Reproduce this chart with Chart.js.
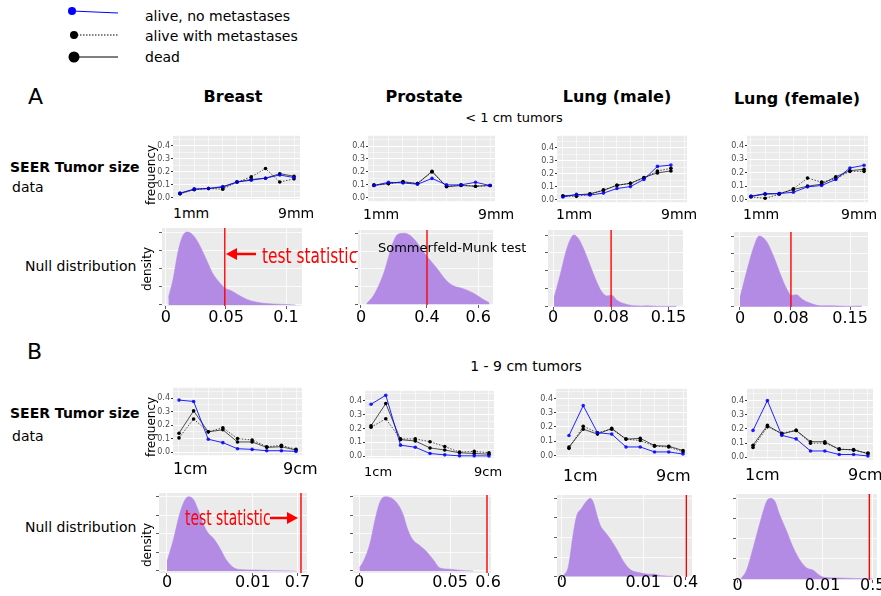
<!DOCTYPE html>
<html>
<head>
<meta charset="utf-8">
<script src="https://cdn.jsdelivr.net/npm/chart.js@4.4.1/dist/chart.umd.min.js"></script>
<style>
body { margin: 0; width: 881px; height: 596px; position: relative; overflow: hidden; background: #fff; font-family: "DejaVu Sans", sans-serif; }
canvas { position: absolute; }
.t { position: absolute; white-space: nowrap; color: #000; line-height: 1; z-index: 2; }
svg { position: absolute; left: 0; top: 0; z-index: 3; }
</style>
</head>
<body>
<svg width="881" height="596">
  <line x1="72" y1="11" x2="118" y2="13" stroke="#0000ff" stroke-width="1"/>
  <circle cx="72" cy="11" r="4" fill="#0000ff"/>
  <line x1="74" y1="35" x2="118" y2="35" stroke="#000" stroke-width="1" stroke-dasharray="1.5,1.5"/>
  <circle cx="74" cy="35" r="4" fill="#000"/>
  <line x1="74" y1="57" x2="118" y2="57" stroke="#000" stroke-width="1.2"/>
  <circle cx="74" cy="57" r="5.5" fill="#000"/>
  <line x1="256" y1="254" x2="234" y2="254" stroke="#ff0000" stroke-width="2.5"/>
  <polygon points="226,254 237,248 237,260" fill="#ff0000"/>
  <line x1="270" y1="518" x2="290" y2="518" stroke="#ff0000" stroke-width="2.5"/>
  <polygon points="298,518 287,512 287,524" fill="#ff0000"/>
</svg>
<script>
// tumor size steps (1..9 mm for A, 1..9 cm for B)
const sizeSteps = [1, 2, 3, 4, 5, 6, 7, 8, 9];
const mmEnds = ['1mm', '9mm'];
const cmEnds = ['1cm', '9cm'];

// A: < 1 cm tumors, frequency per size
const breastA_alive = [0.035, 0.065, 0.07, 0.085, 0.12, 0.135, 0.15, 0.175, 0.155];
const breastA_mets = [0.03, 0.06, 0.07, 0.065, 0.12, 0.16, 0.225, 0.12, 0.145];
const breastA_dead = [0.03, 0.065, 0.07, 0.08, 0.12, 0.14, 0.15, 0.185, 0.165];
const prostateA_alive = [0.095, 0.12, 0.115, 0.105, 0.15, 0.1, 0.1, 0.12, 0.095];
const prostateA_mets = [0.1, 0.11, 0.12, 0.11, 0.2, 0.09, 0.1, 0.09, 0.095];
const prostateA_dead = [0.095, 0.11, 0.125, 0.11, 0.205, 0.085, 0.095, 0.09, 0.095];
const lungMA_alive = [0.02, 0.04, 0.035, 0.05, 0.085, 0.1, 0.155, 0.255, 0.265];
const lungMA_mets = [0.025, 0.025, 0.04, 0.075, 0.11, 0.125, 0.165, 0.22, 0.24];
const lungMA_dead = [0.03, 0.035, 0.045, 0.07, 0.11, 0.125, 0.17, 0.205, 0.22];
const lungFA_alive = [0.025, 0.045, 0.045, 0.055, 0.095, 0.105, 0.15, 0.235, 0.255];
const lungFA_mets = [0.02, 0.01, 0.04, 0.08, 0.16, 0.13, 0.155, 0.21, 0.21];
const lungFA_dead = [0.025, 0.04, 0.045, 0.075, 0.1, 0.115, 0.17, 0.215, 0.225];

// B: 1 - 9 cm tumors
const breastB_alive = [0.385, 0.375, 0.095, 0.07, 0.025, 0.02, 0.01, 0.01, 0.005];
const breastB_mets = [0.105, 0.245, 0.15, 0.18, 0.1, 0.09, 0.04, 0.05, 0.02];
const breastB_dead = [0.14, 0.305, 0.15, 0.165, 0.075, 0.075, 0.035, 0.04, 0.015];
const prostateB_alive = [0.375, 0.44, 0.08, 0.065, 0.02, 0.01, 0.003, 0.003, 0.002];
const prostateB_mets = [0.21, 0.27, 0.125, 0.125, 0.105, 0.07, 0.03, 0.035, 0.025];
const prostateB_dead = [0.22, 0.38, 0.12, 0.11, 0.06, 0.045, 0.025, 0.02, 0.015];
const lungMB_alive = [0.14, 0.35, 0.16, 0.15, 0.06, 0.06, 0.025, 0.025, 0.01];
const lungMB_mets = [0.05, 0.205, 0.16, 0.185, 0.115, 0.105, 0.065, 0.06, 0.025];
const lungMB_dead = [0.06, 0.185, 0.15, 0.19, 0.115, 0.12, 0.07, 0.065, 0.035];
const lungFB_alive = [0.19, 0.4, 0.155, 0.13, 0.045, 0.045, 0.02, 0.02, 0.01];
const lungFB_mets = [0.07, 0.215, 0.17, 0.19, 0.1, 0.1, 0.06, 0.05, 0.03];
const lungFB_dead = [0.085, 0.225, 0.165, 0.19, 0.11, 0.11, 0.055, 0.055, 0.025];

// null distributions (density scaled to peak = 1) + test statistic
const breastA_nullX = [0.002, 0.006, 0.01, 0.014, 0.018, 0.023, 0.028, 0.034, 0.039, 0.045, 0.049, 0.054, 0.06, 0.067, 0.075, 0.084, 0.095, 0.108];
const breastA_nullY = [0.10, 0.36, 0.73, 0.95, 1.0, 0.95, 0.82, 0.61, 0.43, 0.30, 0.23, 0.20, 0.14, 0.08, 0.04, 0.02, 0.01, 0.0];
const breastA_stat = 0.049;
const breastA_ticks = [0, 0.05, 0.1];
const breastA_tickText = ['0', '0.05', '0.1'];

const prostateA_nullX = [0.034, 0.075, 0.135, 0.196, 0.226, 0.267, 0.317, 0.378, 0.402, 0.459, 0.519, 0.56, 0.62, 0.68, 0.74, 0.778];
const prostateA_nullY = [0.01, 0.12, 0.42, 0.88, 0.99, 1.0, 0.93, 0.74, 0.67, 0.51, 0.33, 0.26, 0.22, 0.16, 0.07, 0.02];
const prostateA_stat = 0.4;
const prostateA_ticks = [0, 0.4, 0.71];
const prostateA_tickText = ['0', '0.4', '0.6'];

const lungMA_nullX = [0.0014, 0.0097, 0.019, 0.026, 0.029, 0.035, 0.042, 0.051, 0.06, 0.067, 0.074, 0.081, 0.088, 0.102, 0.12, 0.129, 0.143, 0.17];
const lungMA_nullY = [0.13, 0.44, 0.81, 0.98, 1.0, 0.95, 0.81, 0.58, 0.35, 0.21, 0.15, 0.16, 0.09, 0.03, 0.01, 0.014, 0.005, 0.005];
const lungMA_stat = 0.08;
const lungMA_ticks = [0, 0.08, 0.159];
const lungMA_tickText = ['0', '0.08', '0.15'];

const lungFA_nullX = [0.0, 0.0105, 0.021, 0.03, 0.042, 0.052, 0.063, 0.073, 0.081, 0.089, 0.097, 0.11, 0.126, 0.146, 0.167, 0.191];
const lungFA_nullY = [0.13, 0.5, 0.83, 1.0, 0.92, 0.73, 0.47, 0.26, 0.16, 0.17, 0.11, 0.05, 0.014, 0.014, 0.005, 0.01];
const lungFA_stat = 0.08;
const lungFA_ticks = [0, 0.08, 0.173];
const lungFA_tickText = ['0', '0.08', '0.15'];

// B panels: axis is broken, the statistic sits at the right edge
const breastB_nullX = [0.0, 0.00074, 0.0015, 0.0021, 0.0025, 0.0031, 0.0036, 0.0042, 0.0048, 0.0054, 0.0062, 0.0069, 0.0077, 0.0085, 0.0104, 0.0124, 0.0151];
const breastB_nullY = [0.13, 0.42, 0.78, 0.96, 1.0, 0.96, 0.83, 0.64, 0.51, 0.44, 0.30, 0.15, 0.05, 0.02, 0.013, 0.005, 0.0];
const breastB_stat = 0.0156;
const breastB_ticks = [0, 0.01, 0.0152];
const breastB_tickText = ['0', '0.01', '0.7'];

const prostateB_nullX = [0.0002, 0.0024, 0.006, 0.0088, 0.0115, 0.0143, 0.018, 0.0216, 0.0244, 0.0262, 0.029, 0.0335, 0.0372, 0.0408, 0.0445, 0.05, 0.0555, 0.0628];
const prostateB_nullY = [0.04, 0.13, 0.37, 0.69, 0.93, 1.0, 0.98, 0.89, 0.75, 0.6, 0.44, 0.34, 0.26, 0.15, 0.04, 0.025, 0.01, 0.0];
const prostateB_stat = 0.0703;
const prostateB_ticks = [0, 0.05, 0.0709];
const prostateB_tickText = ['0', '0.05', '0.6'];

const lungMB_nullX = [0.0002, 0.0008, 0.0014, 0.0018, 0.0024, 0.003, 0.0035, 0.0039, 0.0043, 0.0047, 0.0053, 0.0059, 0.0068, 0.0076, 0.0084, 0.0096, 0.0109, 0.0113, 0.0121, 0.0137];
const lungMB_nullY = [0.01, 0.13, 0.55, 0.77, 0.87, 0.96, 1.0, 0.94, 0.79, 0.66, 0.57, 0.49, 0.34, 0.19, 0.09, 0.05, 0.03, 0.034, 0.013, 0.004];
const lungMB_stat = 0.0153;
const lungMB_ticks = [0, 0.01, 0.0152];
const lungMB_tickText = ['0', '0.01', '0.4'];

const lungFB_nullX = [0.0004, 0.001, 0.0018, 0.0026, 0.0034, 0.0038, 0.0044, 0.0049, 0.0057, 0.0065, 0.0073, 0.0081, 0.0089, 0.0096, 0.0104, 0.012, 0.014, 0.0159];
const lungFB_nullY = [0.01, 0.1, 0.38, 0.69, 0.96, 1.0, 0.96, 0.81, 0.61, 0.4, 0.24, 0.14, 0.11, 0.05, 0.02, 0.015, 0.008, 0.004];
const lungFB_stat = 0.0155;
const lungFB_ticks = [0, 0.01, 0.0159];
const lungFB_tickText = ['0', '0.01', '0.5'];

const BLUE = 'rgba(0,0,255,0.85)';
const BLACK = 'rgba(0,0,0,0.75)';
const PURPLE = '#b48be4';
const FONT = '"DejaVu Sans", sans-serif';

// grey ggplot panel background
const greyBg = {
    id: 'greyBg',
    beforeDraw(chart) {
        const { ctx, chartArea: a } = chart;
        ctx.save();
        ctx.fillStyle = '#ebebeb';
        ctx.fillRect(a.left, a.top, a.width, a.height);
        ctx.restore();
    }
};

function makeCanvas(left, top, w, h) {
    const c = document.createElement('canvas');
    c.width = w;
    c.height = h;
    c.style.left = left + 'px';
    c.style.top = top + 'px';
    c.style.width = w + 'px';
    c.style.height = h + 'px';
    document.body.appendChild(c);
    return c;
}

const isMajor = v => Math.round(v * 100) % 10 === 0;

function linePanel(box, xr, yr, alive, mets, dead) {
    const yw = 24;
    const c = makeCanvas(box[0] - yw, box[1], box[2] + yw, box[3]);
    const toPts = vals => sizeSteps.map((x, i) => ({ x, y: vals[i] }));
    new Chart(c, {
        type: 'line',
        data: {
            datasets: [
                { data: toPts(alive), borderColor: BLUE, backgroundColor: BLUE, borderWidth: 1, pointRadius: 1.8, pointBorderWidth: 0 },
                { data: toPts(dead), borderColor: BLACK, backgroundColor: '#000', borderWidth: 0.9, pointRadius: 1.8, pointBorderWidth: 0 },
                { data: toPts(mets), borderColor: BLACK, backgroundColor: '#000', borderWidth: 0.9, borderDash: [1.5, 1.5], pointRadius: 1.8, pointBorderWidth: 0 }
            ]
        },
        options: {
            animation: false,
            responsive: false,
            layout: { padding: 0, autoPadding: false },
            plugins: { legend: { display: false }, tooltip: { enabled: false } },
            scales: {
                x: {
                    type: 'linear', min: xr[0], max: xr[1],
                    ticks: { display: false, stepSize: 1, includeBounds: false },
                    grid: { color: '#fff', lineWidth: 0.6, drawTicks: false },
                    border: { display: false },
                    afterFit(s) { s.height = 0; }
                },
                y: {
                    min: yr[0], max: yr[1],
                    ticks: {
                        stepSize: 0.05, includeBounds: false, autoSkip: false, padding: 1,
                        color: '#4d4d4d', font: { size: 8, family: FONT },
                        callback: v => isMajor(v) ? v.toFixed(1) : ''
                    },
                    grid: {
                        color: '#fff',
                        lineWidth: ctx => isMajor(ctx.tick.value) ? 1 : 0.5,
                        tickLength: 2,
                        tickColor: ctx => isMajor(ctx.tick.value) ? '#333' : 'rgba(0,0,0,0)'
                    },
                    border: { display: false },
                    afterFit(s) { s.width = yw; }
                }
            }
        },
        plugins: [greyBg]
    });
}

function densityPanel(box, xr, yr, lblBase, xs, ys, stat, ticks, tickText) {
    const yw = 5, pr = 22, xh = 26;
    const c = makeCanvas(box[0] - yw, box[1], box[2] + yw + pr, box[3] + xh);
    // tick labels drawn last so they sit on top of the panel edge like the original
    const tickLabels = {
        id: 'tickLabels',
        afterDraw(chart) {
            const { ctx, chartArea: a, scales: { x } } = chart;
            ctx.save();
            ctx.font = '16px ' + FONT;
            ctx.fillStyle = '#000';
            ctx.textAlign = 'center';
            ctx.textBaseline = 'alphabetic';
            ticks.forEach((v, i) => ctx.fillText(tickText[i], x.getPixelForValue(v), a.bottom + lblBase));
            ctx.restore();
        }
    };
    new Chart(c, {
        type: 'line',
        data: {
            datasets: [
                { data: [{ x: stat, y: yr[0] }, { x: stat, y: yr[1] }], borderColor: '#ff0000', borderWidth: 1.4, pointRadius: 0, fill: false },
                { data: xs.map((x, i) => ({ x, y: ys[i] })), borderColor: PURPLE, backgroundColor: PURPLE, borderWidth: 0.5, pointRadius: 0, fill: 'origin', cubicInterpolationMode: 'monotone' }
            ]
        },
        options: {
            animation: false,
            responsive: false,
            layout: { padding: { left: 0, top: 0, bottom: 0, right: pr }, autoPadding: false },
            plugins: { legend: { display: false }, tooltip: { enabled: false } },
            scales: {
                x: {
                    type: 'linear', min: xr[0], max: xr[1],
                    afterBuildTicks(s) { s.ticks = ticks.map(v => ({ value: v })); },
                    ticks: { display: false },
                    grid: { color: '#fff', lineWidth: 0.8, tickLength: 3, tickColor: '#333' },
                    border: { display: false },
                    afterFit(s) { s.height = xh; }
                },
                y: {
                    min: yr[0], max: yr[1],
                    ticks: { display: false, stepSize: 0.25, includeBounds: false },
                    grid: { color: '#fff', lineWidth: 0.8, tickLength: 3, tickColor: '#333' },
                    border: { display: false },
                    afterFit(s) { s.width = yw; }
                }
            }
        },
        plugins: [greyBg, tickLabels]
    });
}

function txt(s, x, y, o = {}) {
    const d = document.createElement('div');
    d.className = 't';
    d.textContent = s;
    d.style.left = x + 'px';
    d.style.top = y + 'px';
    d.style.fontSize = (o.size || 14) + 'px';
    if (o.bold) d.style.fontWeight = 'bold';
    if (o.color) d.style.color = o.color;
    d.style.transformOrigin = o.center ? '50% 50%' : '0 50%';
    d.style.transform = 'translate(' + (o.center ? '-50%' : '0') + ',-50%)' +
        (o.rot ? ' rotate(-90deg)' : '') + (o.sx ? ' scaleX(' + o.sx + ')' : '');
    document.body.appendChild(d);
}

// row A: frequency panels
linePanel([173, 130, 127, 75], [0.51, 9.42], [-0.013, 0.479], breastA_alive, breastA_mets, breastA_dead);
linePanel([368, 130, 127, 77], [0.59, 9.34], [-0.026, 0.479], prostateA_alive, prostateA_mets, prostateA_dead);
linePanel([557, 130, 130, 78], [0.56, 10.19], [-0.02, 0.49], lungMA_alive, lungMA_mets, lungMA_dead);
linePanel([747, 130, 121, 78], [0.72, 9.28], [-0.019, 0.474], lungFA_alive, lungFA_mets, lungFA_dead);

// row A: null distributions
densityPanel([162, 228, 140, 78], [-0.0033, 0.1133], [-0.014, 1.055], 16, breastA_nullX, breastA_nullY, breastA_stat, breastA_ticks, breastA_tickText);
densityPanel([358, 230, 135, 75], [-0.018, 0.8], [-0.01, 1.046], 17, prostateA_nullX, prostateA_nullY, prostateA_stat, prostateA_ticks, prostateA_tickText);
densityPanel([548, 230, 135, 77], [-0.0069, 0.179], [-0.005, 1.07], 15, lungMA_nullX, lungMA_nullY, lungMA_stat, lungMA_ticks, lungMA_tickText);
densityPanel([734, 232, 134, 75], [-0.0094, 0.201], [-0.005, 1.057], 16, lungFA_nullX, lungFA_nullY, lungFA_stat, lungFA_ticks, lungFA_tickText);

// row B: frequency panels
linePanel([173, 382, 129, 79], [0.59, 9.41], [-0.023, 0.476], breastB_alive, breastB_mets, breastB_dead);
linePanel([365, 385, 129, 79], [0.59, 9.34], [-0.014, 0.472], prostateB_alive, prostateB_mets, prostateB_dead);
linePanel([556, 383, 131, 80], [0.09, 9.28], [-0.012, 0.468], lungMB_alive, lungMB_mets, lungMB_dead);
linePanel([747, 383, 126, 83], [0.58, 9.35], [-0.02, 0.483], lungFB_alive, lungFB_mets, lungFB_dead);

// row B: null distributions
densityPanel([159, 493, 148, 80], [-0.00093, 0.0163], [-0.027, 1.05], 14, breastB_nullX, breastB_nullY, breastB_stat, breastB_ticks, breastB_tickText);
densityPanel([353, 495, 138, 78], [-0.0033, 0.0725], [-0.027, 1.023], 14, prostateB_nullX, prostateB_nullY, prostateB_stat, prostateB_ticks, prostateB_tickText);
densityPanel([557, 495, 135, 82], [-0.0006, 0.016], [-0.005, 1.043], 10, lungMB_nullX, lungMB_nullY, lungMB_stat, lungMB_ticks, lungMB_tickText);
densityPanel([736, 494, 141, 86], [-0.0002, 0.0164], [-0.01, 1.053], 10, lungFB_nullX, lungFB_nullY, lungFB_stat, lungFB_ticks, lungFB_tickText);

// texts
txt('alive, no metastases', 145, 16, { size: 14 });
txt('alive with metastases', 145, 36, { size: 14 });
txt('dead', 145, 57, { size: 14 });
txt('A', 28, 97, { size: 22 });
txt('B', 27, 352, { size: 22 });
txt('Breast', 233, 97, { size: 16, bold: true, center: true });
txt('Prostate', 424, 97, { size: 16, bold: true, center: true });
txt('Lung (male)', 617, 97, { size: 16, bold: true, center: true });
txt('Lung (female)', 797, 99, { size: 16, bold: true, center: true });
txt('< 1 cm tumors', 514, 117, { size: 13, center: true });
txt('1 - 9 cm tumors', 526, 366, { size: 14, center: true });
txt('SEER Tumor size', 10, 167, { size: 14, bold: true });
txt('data', 12, 187, { size: 14 });
txt('SEER Tumor size', 10, 413, { size: 14, bold: true });
txt('data', 12, 436, { size: 14 });
txt('Null distribution', 25, 266, { size: 14 });
txt('Null distribution', 25, 527, { size: 14 });
txt('frequency', 151, 175, { size: 12, center: true, rot: true });
txt('frequency', 151, 427, { size: 12, center: true, rot: true });
txt('density', 147, 269, { size: 12, center: true, rot: true });
txt('density', 147, 545, { size: 12, center: true, rot: true });
txt('Sommerfeld-Munk test', 378, 247, { size: 13 });
txt('test statistic', 262, 256, { size: 22, color: '#ff0000', sx: 0.7 });
txt('test statistic', 185, 518, { size: 22, color: '#ff0000', sx: 0.63 });

txt(mmEnds[0], 173, 213, { size: 14 }); txt(mmEnds[1], 278, 213, { size: 14 });
txt(mmEnds[0], 363, 214, { size: 14 }); txt(mmEnds[1], 478, 214, { size: 14 });
txt(mmEnds[0], 556, 214, { size: 14 }); txt(mmEnds[1], 661, 214, { size: 14 });
txt(mmEnds[0], 743, 214, { size: 14 }); txt(mmEnds[1], 841, 214, { size: 14 });
txt(cmEnds[0], 173, 469, { size: 16 }); txt(cmEnds[1], 283, 469, { size: 16 });
txt(cmEnds[0], 364, 471, { size: 13 }); txt(cmEnds[1], 474, 471, { size: 13 });
txt(cmEnds[0], 563, 476, { size: 16 }); txt(cmEnds[1], 656, 476, { size: 16 });
txt(cmEnds[0], 745, 475, { size: 16 }); txt(cmEnds[1], 848, 475, { size: 16 });
</script>
</body>
</html>
